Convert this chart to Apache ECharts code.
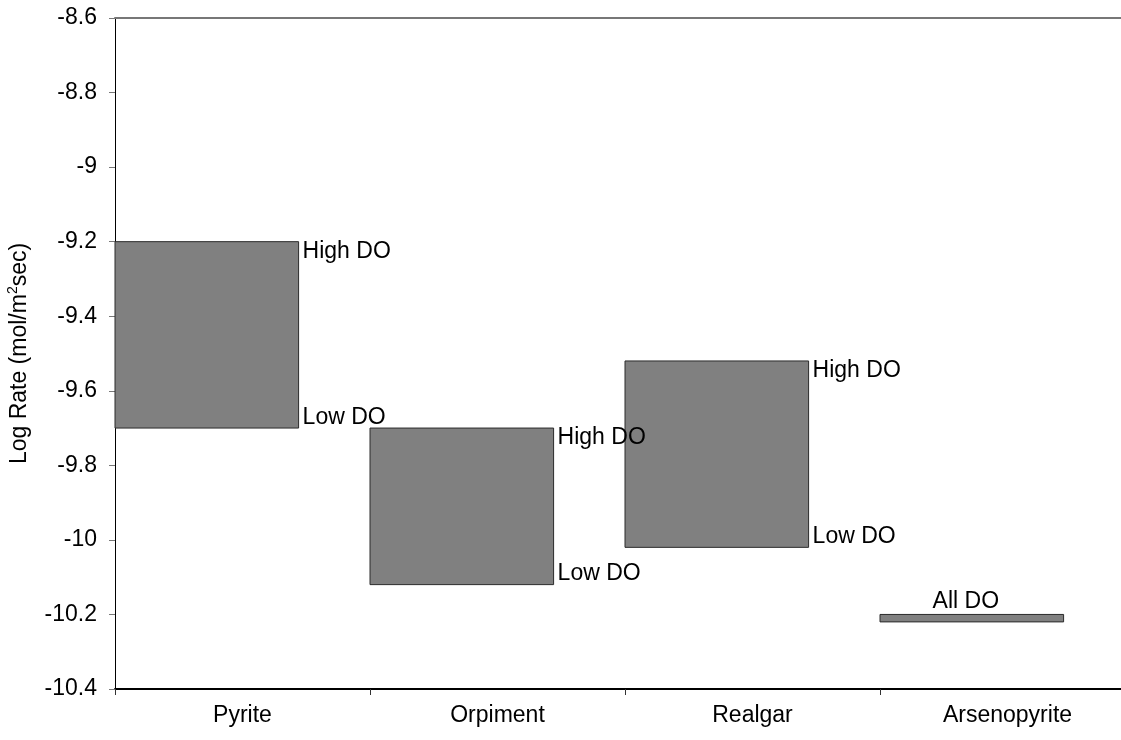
<!DOCTYPE html>
<html>
<head>
<meta charset="utf-8">
<title>Log Rate by mineral</title>
<script src="https://cdn.jsdelivr.net/npm/echarts@6/dist/echarts.min.js"></script>
<style>
  html, body { margin: 0; padding: 0; background: #fff; }
  #chart { width: 1121px; height: 740px; }
</style>
</head>
<body>
<div id="chart"></div>
<script>
// Minerals along the x axis
const categories = ['Pyrite', 'Orpiment', 'Realgar', 'Arsenopyrite'];
// Upper and lower ends of each rate range (log mol/m2 sec)
const highValues = [-9.2, -9.7, -9.52, -10.2];
const lowValues = [-9.7, -10.12, -10.02, -10.22];
// Labels at the ends of each range
const highLabels = ['High DO', 'High DO', 'High DO', 'All DO'];
const lowLabels = ['Low DO', 'Low DO', 'Low DO', ''];
// Value axis range and step
const yMin = -10.4;
const yMax = -8.6;
const yStep = 0.2;

const FONT = 'Liberation Sans, Arial, sans-serif';
const chart = echarts.init(document.getElementById('chart'));

const rangeData = categories.map((c, i) => [i, highValues[i], lowValues[i]]);

function renderRange(params, api) {
  const i = api.value(0);
  const hi = api.value(1);
  const lo = api.value(2);
  const pTop = api.coord([i, hi]);
  const pBot = api.coord([i, lo]);
  const band = api.size([1, 0])[0];
  const left = pTop[0] - band / 2;
  const w = band * 0.72;
  const children = [{
    type: 'rect',
    z2: 0,
    shape: { x: left, y: pTop[1], width: w, height: pBot[1] - pTop[1] },
    style: { fill: '#808080', stroke: '#2a2a2a', lineWidth: 1 }
  }];
  const font = '23px ' + FONT;
  if (lowLabels[i]) {
    children.push({
      type: 'text',
      z2: 100,
      style: { text: highLabels[i], x: left + w + 4, y: pTop[1] - 2, fill: '#000', font: font, align: 'left', verticalAlign: 'top' }
    });
    children.push({
      type: 'text',
      z2: 100,
      style: { text: lowLabels[i], x: left + w + 4, y: pBot[1] + 1, fill: '#000', font: font, align: 'left', verticalAlign: 'bottom' }
    });
  } else {
    children.push({
      type: 'text',
      z2: 100,
      style: { text: highLabels[i], x: left + w / 2 - 6, y: pTop[1] - 1, fill: '#000', font: font, align: 'center', verticalAlign: 'bottom' }
    });
  }
  return { type: 'group', children: children };
}

chart.setOption({
  animation: false,
  backgroundColor: '#fff',
  grid: { left: 115, right: -14, top: 18, bottom: 51, containLabel: false, outerBoundsMode: 'none' },
  xAxis: [{
    type: 'category',
    data: categories,
    position: 'bottom',
    axisLine: { lineStyle: { color: '#000', width: 2 } },
    axisTick: { show: true, length: 6, lineStyle: { color: '#333', width: 1 } },
    axisLabel: { color: '#000', fontSize: 23, fontFamily: FONT, margin: 15 },
    splitLine: { show: false }
  }, {
    type: 'category',
    data: categories,
    position: 'top',
    axisLine: { lineStyle: { color: '#777', width: 2 } },
    axisTick: { show: false },
    axisLabel: { show: false },
    splitLine: { show: false }
  }],
  yAxis: {
    type: 'value',
    min: yMin,
    max: yMax,
    interval: yStep,
    name: '{a|Log Rate (mol/m}{s|2}{a|sec)}',
    nameLocation: 'middle',
    nameGap: 84,
    nameTextStyle: {
      rich: {
        a: { fontSize: 23, fontFamily: FONT, color: '#000', verticalAlign: 'bottom' },
        s: { fontSize: 14, fontFamily: FONT, color: '#000', verticalAlign: 'bottom', padding: [0, 0, 11, 0] }
      }
    },
    axisLine: { show: true, lineStyle: { color: '#000', width: 1 } },
    axisTick: { show: true, length: 6, lineStyle: { color: '#777', width: 1 } },
    axisLabel: { color: '#000', fontSize: 23, fontFamily: FONT, margin: 18 },
    splitLine: { show: false }
  },
  series: [{
    type: 'custom',
    renderItem: renderRange,
    data: rangeData,
    encode: { x: 0, y: [1, 2] },
    clip: false
  }]
});
</script>
</body>
</html>
